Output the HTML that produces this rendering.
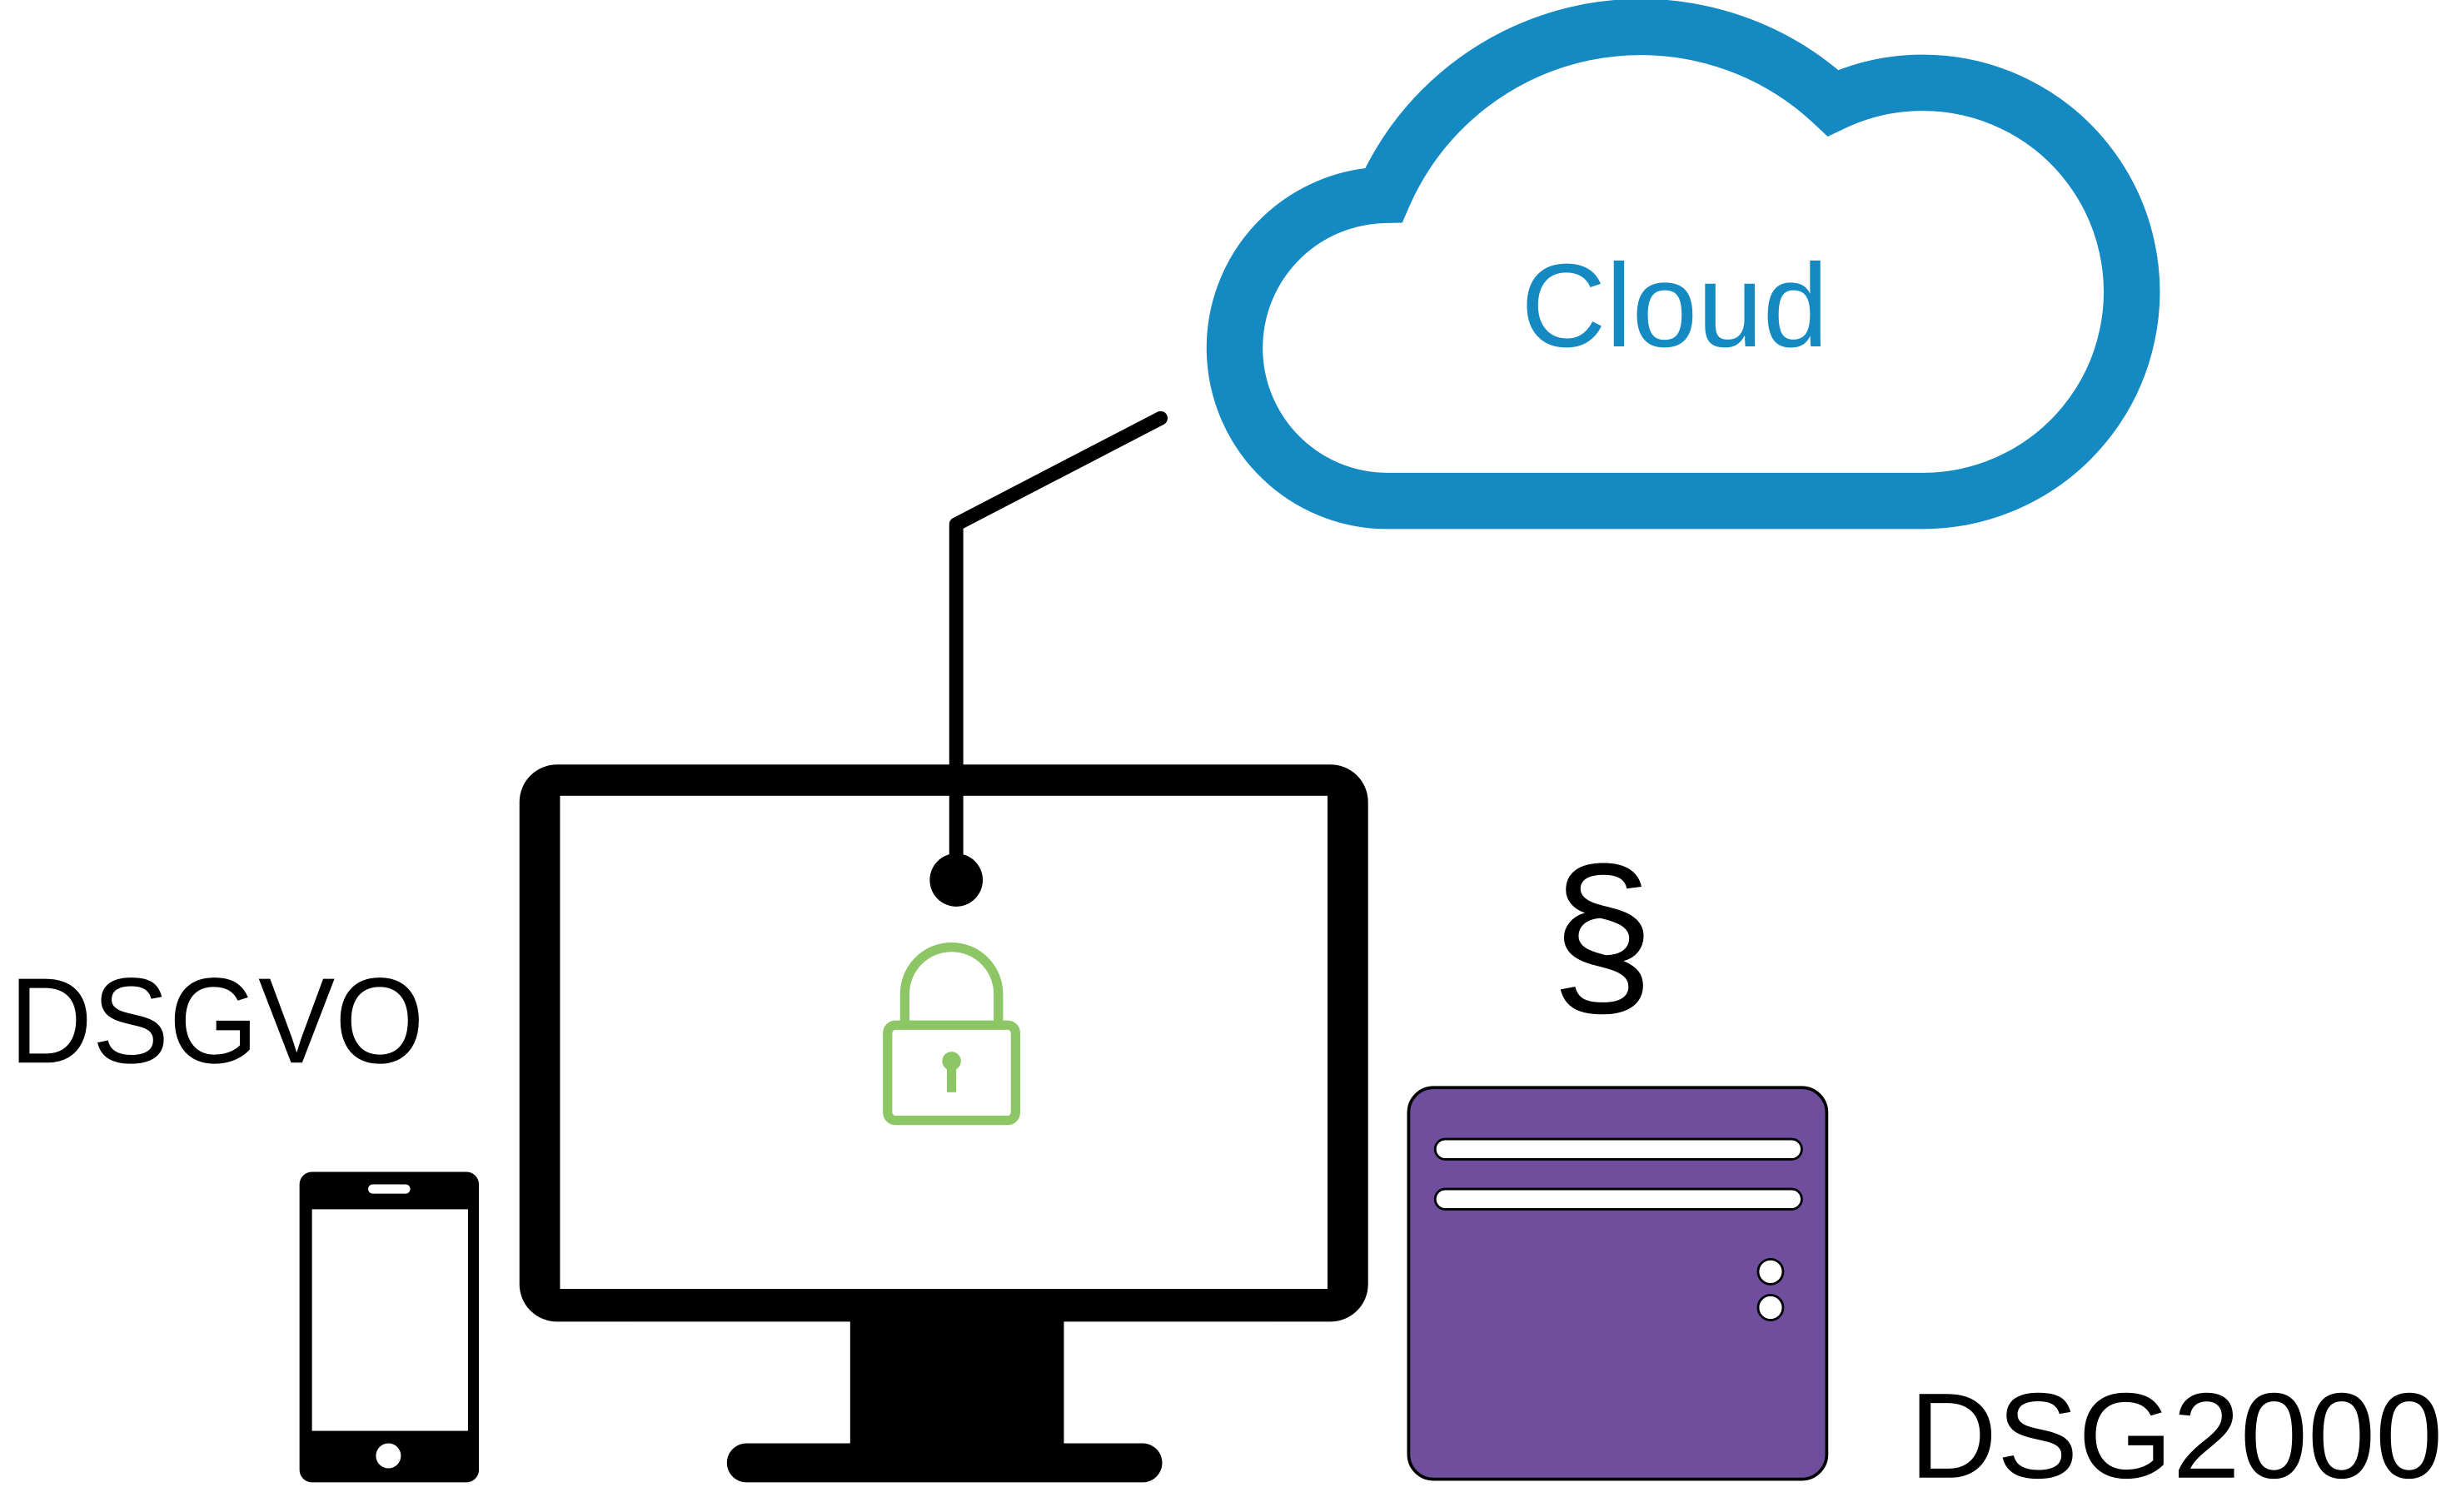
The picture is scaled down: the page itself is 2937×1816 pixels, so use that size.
<!DOCTYPE html>
<html><head><meta charset="utf-8"><style>
html,body{margin:0;padding:0;background:#fff;}
svg{display:block;}
text{font-family:"Liberation Sans",sans-serif;font-weight:300;}
</style></head><body>
<svg width="2937" height="1816" viewBox="0 0 1568 969" preserveAspectRatio="none" xmlns="http://www.w3.org/2000/svg">
<!-- Cloud -->
<path d="M892,321 A98 98 0 0 1 887,125 A180 180 0 0 1 1175,66 A134 134 0 1 1 1231,321 Z" fill="#fff" stroke="#1589c2" stroke-width="36" stroke-linejoin="miter"/>
<text x="975" y="222" font-size="76" fill="#1589c2" textLength="197" lengthAdjust="spacingAndGlyphs">Cloud</text>
<!-- connector -->
<polyline points="744,268 613,336 613,556" fill="none" stroke="#000" stroke-width="9" stroke-linecap="round" stroke-linejoin="round"/>
<!-- Monitor -->
<rect x="333" y="490" width="544" height="357" rx="24" fill="#000"/>
<rect x="359" y="510" width="492" height="316" fill="#fff"/>
<line x1="613" y1="505" x2="613" y2="556" stroke="#000" stroke-width="9"/>
<circle cx="613" cy="564" r="17" fill="#000"/>
<rect x="545" y="845" width="137" height="82" fill="#000"/>
<rect x="466" y="925" width="279" height="25" rx="12.5" fill="#000"/>
<!-- Lock -->
<path d="M580,655 V637 A30 30 0 0 1 640,637 V655" fill="none" stroke="#8cc665" stroke-width="6"/>
<rect x="569" y="657" width="82" height="61" rx="5" fill="none" stroke="#8cc665" stroke-width="6"/>
<circle cx="610" cy="680" r="6" fill="#8cc665"/>
<rect x="607" y="680" width="6" height="20" fill="#8cc665"/>
<!-- DSGVO -->
<text x="6" y="681" font-size="78" fill="#000" textLength="266" lengthAdjust="spacingAndGlyphs">DSGVO</text>
<!-- Phone -->
<rect x="192" y="751" width="115" height="199" rx="8" fill="#000"/>
<rect x="200" y="775" width="100" height="142" fill="#fff"/>
<rect x="236" y="759" width="27" height="6" rx="3" fill="#fff"/>
<circle cx="249" cy="933" r="8" fill="#fff"/>
<!-- section sign -->
<text x="1027" y="640" font-size="120" fill="#000" text-anchor="middle">§</text>
<!-- Server -->
<rect x="903" y="697" width="268" height="251" rx="16" fill="#6f4e9e" stroke="#000" stroke-width="2"/>
<rect x="920" y="730" width="235" height="13" rx="6.5" fill="#fff" stroke="#000" stroke-width="1.5"/>
<rect x="920" y="762" width="235" height="13" rx="6.5" fill="#fff" stroke="#000" stroke-width="1.5"/>
<circle cx="1135" cy="815" r="8" fill="#fff" stroke="#000" stroke-width="1.5"/>
<circle cx="1135" cy="838" r="8" fill="#fff" stroke="#000" stroke-width="1.5"/>
<!-- DSG2000 -->
<text x="1224" y="947" font-size="78" fill="#000" textLength="342" lengthAdjust="spacingAndGlyphs">DSG2000</text>
</svg>
</body></html>
